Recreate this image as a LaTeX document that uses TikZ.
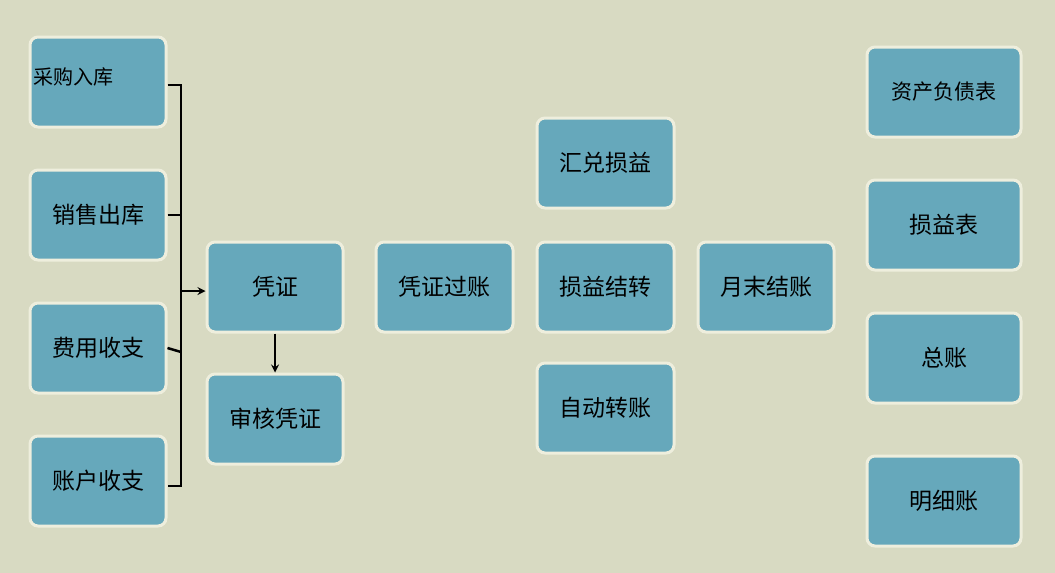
\documentclass[tikz,border=0pt]{standalone}
\usepackage{fontspec}
\newfontfamily\cjk{Noto Sans CJK SC}
\definecolor{bg}{HTML}{D8DAC2}
\definecolor{bx}{HTML}{66A8BB}
\definecolor{bd}{HTML}{EEEEDD}
\begin{document}
\begin{tikzpicture}[x=1pt,y=-1pt,
  bxs/.style={draw=bd,line width=3pt,fill=bx,rounded corners=8pt,font=\cjk\fontsize{23}{26}\selectfont,inner sep=0pt},
  ln/.style={line width=2.5pt,black}]
\fill[bg] (0,0) rectangle (1055,573);
\useasboundingbox (0,0) rectangle (1055,573);
\newcommand\bx[6]{\node[bxs,minimum width=#4-#2,minimum height=#5-#3] (#1) at ({(#2+#4)/2},{(#3+#5)/2}) {#6};}
\node[bxs,minimum width=136,minimum height=90,text width=130,align=left,font=\cjk\fontsize{20}{24}\selectfont] (a) at (98,82) {\raisebox{12pt}{采购入库}};
\bx{b}{30}{170}{166}{260}{销售出库}
\bx{c}{30}{303}{166}{393}{费用收支}
\bx{d}{30}{436}{166}{526}{账户收支}
\bx{pz}{207}{242}{343}{332}{凭证}
\bx{sh}{207}{374}{343}{464}{审核凭证}
\bx{gz}{376}{242}{513}{332}{凭证过账}
\bx{hd}{537}{118}{674}{208}{汇兑损益}
\bx{sy}{537}{242}{674}{332}{损益结转}
\bx{zd}{537}{363}{674}{453}{自动转账}
\bx{ym}{698}{242}{834}{332}{月末结账}
\node[bxs,minimum width=154,minimum height=90,font=\cjk\fontsize{21}{24}\selectfont] (zc) at (944,92) {资产负债表};
\bx{syb}{867}{180}{1021}{270}{损益表}
\bx{zz}{867}{313}{1021}{403}{总账}
\bx{mx}{867}{456}{1021}{546}{明细账}
\coordinate (t) at (181,85);
\coordinate (u) at (181,486);
\draw[ln] (a.east|-t) -- (t) -- (u) -- (d.east|-u);
\draw[ln] (b.east) -- (181,215);
\draw[ln] (c.east) -- (181,352);
\draw[ln,->,>=stealth] (181,291) -- (pz.west|-181,291);
\draw[ln,->,>=stealth] (pz.south) -- (sh.north);
\end{tikzpicture}
\end{document}
